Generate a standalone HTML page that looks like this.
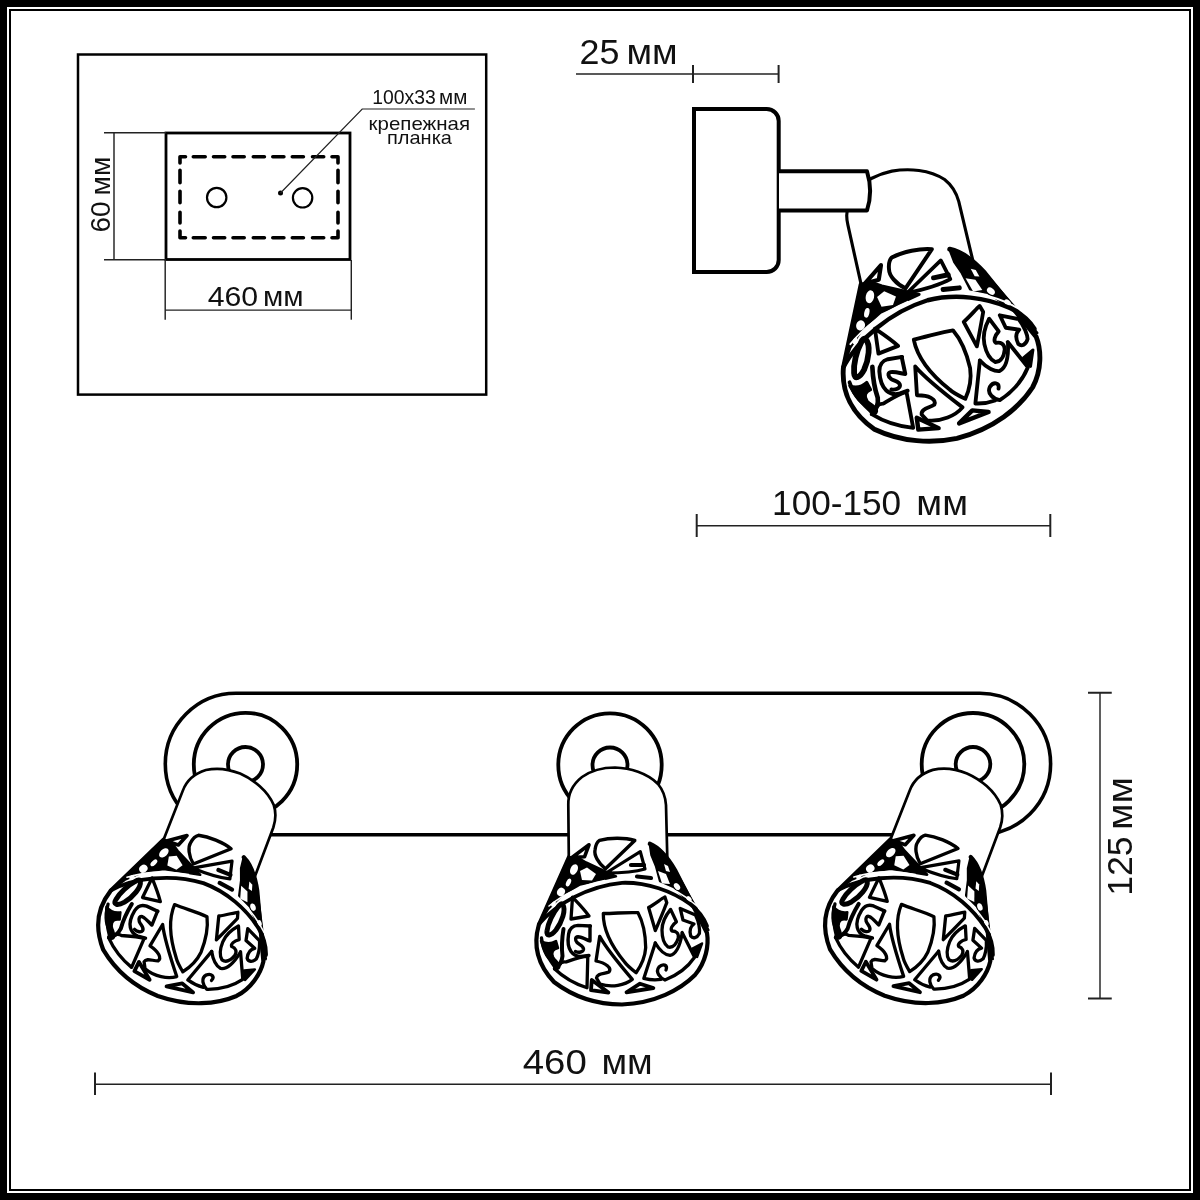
<!DOCTYPE html>
<html><head><meta charset="utf-8">
<style>
html,body{margin:0;padding:0;background:#fff;width:1200px;height:1200px;overflow:hidden}
svg{display:block;will-change:transform}
text{font-family:"Liberation Sans",sans-serif;fill:#111}
</style></head>
<body>
<svg width="1200" height="1200" viewBox="0 0 1200 1200">
<defs>
<g id="lamp" stroke="#000" stroke-linejoin="round" stroke-linecap="round">
  <!-- head -->
  <path d="M568.8,862 L568.3,805 C568,795 572,785 582,777 C592,770 604,767.5 615,767.5 C630,768 647,773 658,784 C663,790 665.5,797 666,805 L667.3,862 Z" fill="#fff" stroke="none"/>
  <path d="M568.8,858 L568.3,805 C568,795 572,785 582,777 C592,770 604,767.5 615,767.5 C630,768 647,773 658,784 C663,790 665.5,797 666,805 L667.3,858" fill="none" stroke-width="2.7"/>
  <!-- shade silhouette fill -->
  <path d="M568.8,857.5 L538.8,925 C533,945 538,965 554,982 C575,998 600,1004.5 622,1004.5 C655,1003 680,990 695,975 C706,962 709,945 707,933 L675,870 C668,858 660,848 649.8,843.7 C630,840 600,842 568.8,857.5 Z" fill="#fff" stroke="none"/>
  <!-- outer rim -->
  <path d="M568.8,857.5 L538.8,925 C533,945 538,965 554,982 C575,998 600,1004.5 622,1004.5 C655,1003 680,990 695,975 C706,962 709,945 707,933 L675,870 C668,858 660,848 649.8,843.7" fill="none" stroke-width="4.2"/>
  <!-- left dense black -->
  <path d="M568.8,857.5 L577,857 L586,862.5 L616,876.3 L600,880 L580,884.5 L562,895 L548,909 L540,922 Z" fill="#000" stroke-width="2.5"/>
  <g fill="#fff" stroke="none">
    <ellipse cx="574" cy="869.5" rx="3.6" ry="5.6" transform="rotate(25 574 869.5)"/>
    <path d="M580,871 L587,867.5 L596,874 L592,880.5 L582,880 Z"/>
    <ellipse cx="568.5" cy="882.5" rx="2.2" ry="4.2" transform="rotate(25 568.5 882.5)"/>
    <ellipse cx="561" cy="892" rx="3.8" ry="4.4" transform="rotate(30 561 892)"/>
    <ellipse cx="553.5" cy="904" rx="1.8" ry="3" transform="rotate(35 553.5 904)"/>
  </g>
  <!-- right black stripe -->
  <path d="M649.8,843.7 C660,848 668,858 675,870 L708.4,930 L700,914 L686,899 L674,887 L660,881 L656,866 L651.5,855 Z" fill="#000" stroke-width="2.5"/>
  <g fill="#fff" stroke="none">
    <path d="M658,871 L666,874 L670,884 L662,883.5 Z"/>
    <path d="M664,864 L668,866 L670,872 L666,871 Z"/>
    <ellipse cx="677" cy="886.5" rx="2.6" ry="3.8" transform="rotate(-40 677 886.5)"/>
    <ellipse cx="689" cy="899" rx="2.2" ry="3.2" transform="rotate(-40 689 899)"/>
  </g>
  <!-- band -->
  <path d="M539,924 C556,904 588,886 622,882.8 C647,882 672,891 690,904 C698,910 704,918 707,926" fill="none" stroke-width="3.8"/>
  <path d="M549,906 C565,893 585,884.5 605,880.5" fill="none" stroke="#fff" stroke-width="1.6"/>
  <path d="M650,881 C668,886 684,894 697,906" fill="none" stroke="#fff" stroke-width="1.6"/>
  <!-- trapezoid hole -->
  <path d="M599.5,840.3 C610,837.5 625,837.5 634.8,840.5 L605.5,868.8 C598,863 594,855 595,850 C595.5,845 597,842 599.5,840.3 Z" fill="#fff" stroke-width="3.4"/>
  <!-- small triangle -->
  <path d="M589,844.8 L572,857.5 L584.5,856.8 Z" fill="#fff" stroke-width="3.6"/>
  <!-- hole N -->
  <path d="M606,873 L640.3,851.6 L645,869 C635,872 620,873 606,873 Z" fill="#fff" stroke-width="3.2"/>
  <path d="M631,865 L644,865 M637,876.5 L651,878" fill="none" stroke-width="4.2"/>
  <!-- shield -->
  <path d="M603.3,913.5 C615,913.5 628,912 638,912.7 C642,920 645.5,933 645.7,947.7 C645,958 641,966 636.1,972.7 C630,968 626,964 624.6,962 C613,948 603,932 603.3,913.5 Z" fill="none" stroke-width="3.3"/>
  <!-- triangle A -->
  <path d="M572.5,897.3 L571,919 L589,916 C583,908 577,902 572.5,897.3 Z" fill="none" stroke-width="3.3"/>
  <!-- left lens -->
  <path d="M563,905 C566,910 562,922 556,930 C551,936 546,937 547,931 C548,923 553,913 558,907 C560,904 562,903 563,905 Z" fill="#fff" stroke-width="5"/>
  <path d="M541,941 C546,944 551,944 556,941 L558,948 C553,949 551,952 553,957 C555,961 559,962 559,966 L555,968 C549,960 544,952 541,941 Z" fill="#000" stroke-width="2.5"/>
  <!-- swirl B -->
  <path d="M590.4,926 L578,925.4 C573,925.6 569.5,929 568.6,934 C567.5,941 568.5,948 571,951.5 C573.5,955 577,956.5 581,956.5 L589,955.5" fill="none" stroke-width="3.4"/>
  <path d="M590,926 L590,941 C587,940 582,937 578,936.8 C575,937 575,940 577,942.5 C579.5,945 584,946 583.5,949.5 C583,952 579,953 575.5,951.5" fill="none" stroke-width="3.4"/>
  <path d="M563.5,929 C562,938 561.5,948 562.5,956 C562,962 559,966 555,968" fill="none" stroke-width="4"/>
  <!-- hole C -->
  <path d="M554.5,968.8 C558,964 562,961 566,962 C572,960 580,957 587.8,956.2 L587,987.8 C575,984 563,977 554.5,968.8 Z" fill="none" stroke-width="3.3"/>
  <path d="M541.5,938 C543,950 548,960 556,963 C561,966 559,969 554.5,968.8" fill="none" stroke-width="3.3"/>
  <!-- hole E -->
  <path d="M599.7,936.4 C606,948 620,965 632.3,979.4 C625,985 612,988 600,984 L596.5,978 C597,973 604,974 609,972 C612,968 606,963 596,961 Z" fill="none" stroke-width="3.3"/>
  <!-- triangles D, F -->
  <path d="M591.8,980 L591,990.2 L608.4,992.6 Z" fill="#fff" stroke-width="3.8"/>
  <path d="M626.5,992.3 L640,983.7 L653.4,988 Z" fill="#fff" stroke-width="3.8"/>
  <!-- hole G -->
  <path d="M648.6,907.5 C655,904 661,899 664.9,896.9 L666.8,902.7 C663,912 659,922 655.3,930.5 Z" fill="none" stroke-width="3.3"/>
  <!-- swirl H -->
  <path d="M670.6,909.4 C666,915 662,922 662,930 C662,938 664,944 668,947 C672,948 676,945 678.3,938 C679,933 676,931 672,931 C670,929 672,925 676.4,921.8 Z" fill="none" stroke-width="3.3"/>
  <path d="M655.3,943 C660,951 666,955 670,955.4 C676,954 680,946 682.1,933.4" fill="none" stroke-width="3.3"/>
  <!-- swirl I -->
  <path d="M680.2,908.4 L695.5,915.1 C699,922 700,930 699.4,933.4 C697,938 693,939 690.7,936 C689,930 691,926 694,924 L683,920 Z" fill="none" stroke-width="3.3"/>
  <!-- hole J -->
  <path d="M682.1,932.4 L694.6,957.3 C688,967 678,975 665,980 C660,978 655,972 659,967 C663,963 668,965 666,970" fill="none" stroke-width="3.3"/>
  <path d="M655.3,943 L643.8,978.4 C650,980 657,980 661,979.4" fill="none" stroke-width="3.3"/>
  <path d="M702,943.5 L692.5,948.5 L697,957 Z" fill="#000" stroke-width="2.5"/>
</g>
</defs>

<!-- frame -->
<rect x="3.5" y="3.5" width="1193" height="1193" fill="none" stroke="#000" stroke-width="7"/>
<rect x="10" y="10" width="1180" height="1180" fill="none" stroke="#000" stroke-width="2"/>

<!-- ===== top-left box ===== -->
<rect x="78" y="54.5" width="408.2" height="340.1" fill="none" stroke="#000" stroke-width="2.5"/>
<rect x="166" y="133" width="184" height="126.5" fill="none" stroke="#000" stroke-width="2.8"/>
<path d="M180,163 L180,156.8 L185.5,156.8 M332,156.8 L338,156.8 L338,163 M180,231 L180,237.7 L185.5,237.7 M332,237.7 L338,237.7 L338,231 M193.3,156.8 L205.2,156.8 M193.3,237.7 L205.2,237.7 M213.5,156.8 L224.7,156.8 M213.5,237.7 L224.7,237.7 M233.0,156.8 L244.2,156.8 M233.0,237.7 L244.2,237.7 M253.3,156.8 L264.4,156.8 M253.3,237.7 L264.4,237.7 M272.8,156.8 L283.9,156.8 M272.8,237.7 L283.9,237.7 M292.3,156.8 L303.4,156.8 M292.3,237.7 L303.4,237.7 M312.5,156.8 L323.7,156.8 M312.5,237.7 L323.7,237.7 M180,170.3 L180,182.7 M338,170.3 L338,182.7 M180,191.3 L180,202.79999999999998 M338,191.3 L338,202.79999999999998 M180,212.3 L180,222.89999999999998 M338,212.3 L338,222.89999999999998" fill="none" stroke="#000" stroke-width="3.6" stroke-linecap="round" stroke-linejoin="round"/>
<circle cx="216.7" cy="197.5" r="9.7" fill="none" stroke="#000" stroke-width="2.2"/>
<circle cx="302.6" cy="197.8" r="9.7" fill="none" stroke="#000" stroke-width="2.2"/>
<circle cx="280.5" cy="193" r="2.5" fill="#000"/>
<polyline points="280.5,193 362.2,109 474.9,109" fill="none" stroke="#222" stroke-width="1.2"/>
<g stroke="#222" stroke-width="1.2">
  <line x1="104" y1="132.7" x2="166" y2="132.7" stroke-width="1.45"/>
  <line x1="104" y1="259.7" x2="166" y2="259.7" stroke-width="1.45"/>
  <line x1="114" y1="132.7" x2="114" y2="259.7" stroke-width="1.45"/>
  <line x1="165.2" y1="260" x2="165.2" y2="319.7" stroke-width="1.45"/>
  <line x1="351.3" y1="260" x2="351.3" y2="319.7" stroke-width="1.45"/>
  <line x1="165.2" y1="310.1" x2="351.3" y2="310.1" stroke-width="1.45"/>
</g>

<!-- ===== top-right side view ===== -->
<g stroke="#222" stroke-width="1.3">
  <line x1="576" y1="74" x2="778.6" y2="74" stroke-width="1.45"/>
  <line x1="693" y1="65" x2="693" y2="83" stroke-width="2.0"/>
  <line x1="778.6" y1="65" x2="778.6" y2="83" stroke-width="2.0"/>
</g>
<use href="#lamp" transform="translate(944,356.3) rotate(-12) scale(1.16) translate(-625.8,-933)"/>
<path d="M694,109 L766.7,109 A12,12 0 0 1 778.7,121 L778.7,260 A12,12 0 0 1 766.7,272 L694,272 Z" fill="#fff" stroke="#000" stroke-width="4"/>
<path d="M779,171.3 L867,171.3 C871,184 871,198 867,210.4 L779,210.4" fill="#fff" stroke="#000" stroke-width="4" stroke-linejoin="round"/>
<g stroke="#222" stroke-width="1.3">
  <line x1="696.7" y1="525.8" x2="1050.3" y2="525.8" stroke-width="1.45"/>
  <line x1="696.7" y1="514" x2="696.7" y2="537" stroke-width="2.0"/>
  <line x1="1050.3" y1="514" x2="1050.3" y2="537" stroke-width="2.0"/>
</g>

<!-- ===== bottom front view ===== -->
<path d="M236,693.3 L979.9,693.3 A70.7,70.7 0 0 1 979.9,834.7 L236,834.7 A70.7,70.7 0 0 1 236,693.3 Z" fill="#fff" stroke="#000" stroke-width="3.6"/>
<g fill="#fff" stroke="#000" stroke-width="3.8">
  <circle cx="245.5" cy="764.5" r="51.7"/>
  <circle cx="245.5" cy="764.5" r="17.5"/>
  <circle cx="610" cy="765" r="51.7"/>
  <circle cx="610" cy="765" r="17.5"/>
  <circle cx="973" cy="764.3" r="51.3"/>
  <circle cx="973" cy="764.3" r="17.3"/>
</g>
<use href="#lamp"/>
<use href="#lamp" transform="translate(188.1,931.1) rotate(22) translate(-625.8,-933)"/>
<use href="#lamp" transform="translate(915,930.9) rotate(22) translate(-625.8,-933)"/>

<g stroke="#222" stroke-width="1.3">
  <line x1="1100" y1="692.75" x2="1100" y2="998.5" stroke-width="1.45"/>
  <line x1="1088" y1="692.75" x2="1111.75" y2="692.75" stroke-width="2.0"/>
  <line x1="1088" y1="998.5" x2="1111.75" y2="998.5" stroke-width="2.0"/>
  <line x1="95" y1="1084.2" x2="1051" y2="1084.2" stroke-width="1.45"/>
  <line x1="95" y1="1072.5" x2="95" y2="1095" stroke-width="2.0"/>
  <line x1="1051" y1="1072.5" x2="1051" y2="1095" stroke-width="2.0"/>
</g>
<g>
<text transform="translate(109.60,232.51) rotate(-90) scale(1.0021,1)" font-size="27.94">60</text>
<text transform="translate(109.60,195.48) rotate(-90) scale(1.0107,1)" font-size="27.94">мм</text>
<text transform="translate(207.70,305.50) scale(1.0840,1)" font-size="27.94">460</text>
<text transform="translate(262.93,305.50) scale(1.0570,1)" font-size="27.94">мм</text>
<text transform="translate(372.14,103.70) scale(0.9873,1)" font-size="19.63">100x33</text>
<text transform="translate(439.06,103.70) scale(1.0511,1)" font-size="19.63">мм</text>
<text transform="translate(368.61,129.90) scale(1.1256,1)" font-size="18.20">крепежная</text>
<text transform="translate(387.00,143.60) scale(1.0985,1)" font-size="18.20">планка</text>
<text transform="translate(579.56,63.50) scale(1.0012,1)" font-size="35.82">25</text>
<text transform="translate(626.39,63.50) scale(1.0391,1)" font-size="35.82">мм</text>
<text transform="translate(772.12,515.00) scale(1.0021,1)" font-size="35.10">100-150</text>
<text transform="translate(916.37,515.00) scale(1.0695,1)" font-size="35.10">мм</text>
<text transform="translate(522.74,1073.80) scale(1.0707,1)" font-size="35.89">460</text>
<text transform="translate(601.39,1073.80) scale(1.0393,1)" font-size="35.89">мм</text>
<text transform="translate(1132.00,895.82) rotate(-90) scale(0.9950,1)" font-size="35.82">125</text>
<text transform="translate(1132.00,830.10) rotate(-90) scale(1.0764,1)" font-size="35.82">мм</text>
</g>
</svg>
</body></html>
